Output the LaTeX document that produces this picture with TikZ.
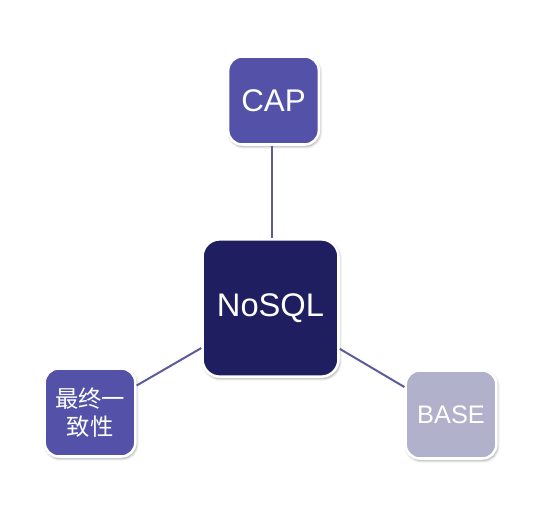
\documentclass[tikz,border=0pt]{standalone}
\usepackage{fontspec}
\setmainfont{Liberation Sans}
\newfontfamily\cjk{Noto Sans CJK SC}
\usepackage{tikz}
\usetikzlibrary{shadows.blur}
\definecolor{navyx}{HTML}{1E1E60}
\definecolor{violetx}{HTML}{5352A8}
\definecolor{lilacx}{HTML}{B1B1CC}
\definecolor{linkx}{HTML}{5C5C9C}
\tikzset{
  box/.style={draw=white,line width=1.9pt,rounded corners=10.5pt,text=white,align=center,
    inner sep=0pt,minimum width=68pt,minimum height=66pt,
    blur shadow={shadow xshift=0.8pt,shadow yshift=-1.4pt,shadow blur radius=2pt,shadow opacity=40}},
  link/.style={linkx,line width=1.5pt}
}
\begin{document}
\begin{tikzpicture}[x=0.75pt,y=-0.75pt]
\useasboundingbox (0,0) rectangle (552,512);
\node[box,fill=navyx,minimum width=102pt,minimum height=103pt,rounded corners=13pt,font=\fontsize{24.5}{28}\selectfont] (nosql) at (270.5,308) {NoSQL};
\node[box,fill=violetx,font=\fontsize{23.5}{27}\selectfont] (cap) at (273.5,100.5) {CAP};
\node[box,fill=violetx,font=\cjk\fontsize{17.5}{20.5}\selectfont] (final) at (90,412.5) {最终一\\致性};
\node[box,fill=lilacx,font=\fontsize{19}{22}\selectfont] (base) at (451,414.5) {BASE};
\draw[link] (cap.south -| 272,0) -- (nosql.north -| 272,0);
\draw[link] (nosql) -- (final);
\draw[link] (nosql) -- (base);
\end{tikzpicture}
\end{document}
